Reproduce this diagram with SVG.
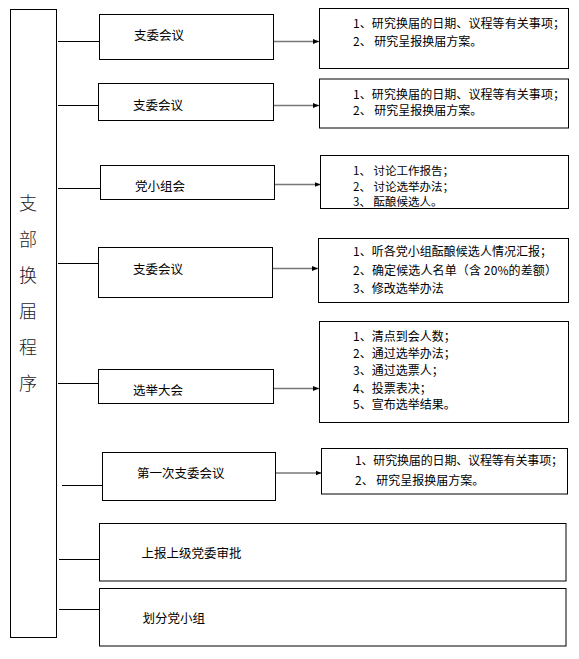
<svg xmlns="http://www.w3.org/2000/svg" width="579" height="659" viewBox="0 0 579 659">
<style>
.box{fill:#fff;stroke:#000;stroke-width:1}
.t{font-family:"Noto Sans CJK SC","Liberation Sans",sans-serif;font-size:12.5px;fill:#000}
.d{font-family:"Noto Sans CJK SC","Liberation Sans",sans-serif;font-size:12px;fill:#000}
.s{font-size:11.5px}
.v{font-family:"Noto Sans CJK SC",serif;font-size:18px;fill:#1a1a2a;text-anchor:middle;font-weight:300}
.lc{stroke:#000;stroke-width:1;fill:none}
.rc{stroke:#777;stroke-width:1.6;fill:none;marker-end:url(#ah)}
</style>
<defs>
<marker id="ah" markerUnits="userSpaceOnUse" markerWidth="6" markerHeight="6" refX="6" refY="3" orient="auto">
<path d="M0,0.5 L6,3 L0,5.5 z" fill="#000"/>
</marker>
</defs>
<rect width="579" height="659" fill="#fff"/>
<g id="title">
<rect class="box" x="10.5" y="9.5" width="46" height="628"/>
<text class="v" x="28" y="209.5">支</text>
<text class="v" x="28" y="245.5">部</text>
<text class="v" x="28" y="281.5">换</text>
<text class="v" x="28" y="318">届</text>
<text class="v" x="28" y="354">程</text>
<text class="v" x="28" y="389.5">序</text>
</g>
<g id="connectors">
<line class="lc" x1="58" y1="41.5" x2="99" y2="41.5"/>
<line class="lc" x1="58" y1="105.5" x2="98" y2="105.5"/>
<line class="lc" x1="58" y1="188.5" x2="100" y2="188.5"/>
<line class="lc" x1="58" y1="263.5" x2="98" y2="263.5"/>
<line class="lc" x1="58" y1="383.5" x2="98" y2="383.5"/>
<line class="lc" x1="62" y1="485.5" x2="102" y2="485.5"/>
<line class="lc" x1="59" y1="559.5" x2="99.5" y2="559.5"/>
<line class="lc" x1="59" y1="609.5" x2="99.5" y2="609.5"/>
<line class="rc" x1="274" y1="41.5" x2="319" y2="41.5"/>
<line class="rc" x1="274" y1="105.5" x2="319" y2="105.5"/>
<line class="rc" x1="274" y1="184.5" x2="320.5" y2="184.5"/>
<line class="rc" x1="273" y1="268.5" x2="318" y2="268.5"/>
<line class="rc" x1="273" y1="388.5" x2="319" y2="388.5"/>
<line class="rc" x1="275.5" y1="473" x2="321.5" y2="473"/>
</g>
<g id="n1">
<rect class="box" x="99.5" y="14.5" width="174" height="45"/>
<text class="t" x="134" y="40">支委会议</text>
</g>
<g id="d1">
<rect class="box" x="319.5" y="8.5" width="249" height="60"/>
<text class="d" x="353" y="27.5" textLength="212" lengthAdjust="spacing">1、研究换届的日期、议程等有关事项；</text>
<text class="d" x="353" y="46">2、 研究呈报换届方案。</text>
</g>
<g id="n2">
<rect class="box" x="98.5" y="83.5" width="175" height="37"/>
<text class="t" x="133" y="109.5">支委会议</text>
</g>
<g id="d2">
<rect class="box" x="319.5" y="79" width="249" height="49"/>
<text class="d" x="353" y="99" textLength="212" lengthAdjust="spacing">1、研究换届的日期、议程等有关事项；</text>
<text class="d" x="353" y="114.5">2、 研究呈报换届方案。</text>
</g>
<g id="n3">
<rect class="box" x="100.5" y="165.5" width="174" height="34"/>
<text class="t" x="135" y="190.5">党小组会</text>
</g>
<g id="d3">
<rect class="box" x="320.5" y="155.5" width="248" height="53"/>
<text class="d s" x="353" y="175">1、 讨论工作报告；</text>
<text class="d s" x="353" y="190.5">2、 讨论选举办法；</text>
<text class="d s" x="353" y="205.5">3、 酝酿候选人。</text>
</g>
<g id="n4">
<rect class="box" x="98.5" y="247.5" width="174" height="50"/>
<text class="t" x="133" y="273.5">支委会议</text>
</g>
<g id="d4">
<rect class="box" x="318.5" y="238.5" width="250" height="64"/>
<text class="d" x="353" y="256" textLength="199" lengthAdjust="spacing">1、听各党小组酝酿候选人情况汇报；</text>
<text class="d" x="353" y="274.5" textLength="204" lengthAdjust="spacing">2、确定候选人名单（含 20%的差额）</text>
<text class="d" x="353" y="292.5">3、修改选举办法</text>
</g>
<g id="n5">
<rect class="box" x="98.5" y="369.5" width="175" height="34"/>
<text class="t" x="133" y="394.5">选举大会</text>
</g>
<g id="d5">
<rect class="box" x="319.5" y="321.5" width="249" height="101"/>
<text class="d" x="353" y="341">1、清点到会人数；</text>
<text class="d" x="353" y="357.5">2、通过选举办法；</text>
<text class="d" x="353" y="374.5">3、通过选票人；</text>
<text class="d" x="353" y="392.5">4、投票表决；</text>
<text class="d" x="353" y="408.5">5、宣布选举结果。</text>
</g>
<g id="n6">
<rect class="box" x="102.5" y="452.5" width="173" height="48"/>
<text class="t" x="137" y="477.5">第一次支委会议</text>
</g>
<g id="d6">
<rect class="box" x="321.5" y="448.5" width="246" height="45.5"/>
<text class="d" x="355" y="465" textLength="208" lengthAdjust="spacing">1、研究换届的日期、议程等有关事项；</text>
<text class="d" x="355" y="484.5">2、 研究呈报换届方案。</text>
</g>
<g id="n7">
<rect class="box" x="99.5" y="523.5" width="466.5" height="57.5"/>
<text class="t" x="141.5" y="558">上报上级党委审批</text>
</g>
<g id="n8">
<rect class="box" x="99.5" y="588.5" width="466.5" height="57.5"/>
<text class="t" x="142.5" y="623">划分党小组</text>
</g>
</svg>
